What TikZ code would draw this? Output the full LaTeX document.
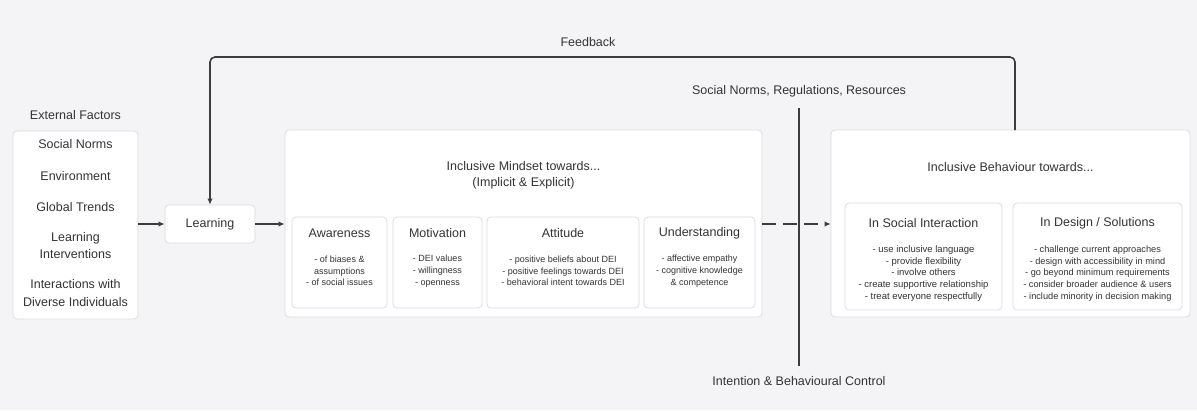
\documentclass[tikz,border=0pt]{standalone}
\usepackage{fontspec}
\setmainfont{Liberation Sans}
\usetikzlibrary{arrows.meta}
\definecolor{bgcol}{HTML}{F4F4F7}
\definecolor{boxline}{HTML}{DCDCE0}
\definecolor{txt}{HTML}{333333}
\definecolor{linecol}{HTML}{3C3C3C}
\tikzset{
  panel/.style={draw=boxline, fill=white, rounded corners=4pt, line width=0.8pt, inner sep=0pt},
  subbox/.style={draw=boxline, fill=white, rounded corners=4pt, line width=0.8pt, inner sep=0pt},
  lbl/.style={text=txt, font=\fontsize{12.5}{15}\selectfont, inner sep=0pt, align=center},
  small/.style={text=txt, font=\fontsize{9}{11.7}\selectfont, inner sep=0pt, align=center},
  smallb/.style={text=txt, font=\fontsize{9.5}{11.7}\selectfont, inner sep=0pt, align=center},
  conn/.style={draw=linecol, line width=1.6pt, -{Latex[length=6pt,width=5.5pt]}},
  dashconn/.style={conn, dash pattern=on 14pt off 7pt},
  plainline/.style={draw=linecol, line width=1.6pt}
}
\begin{document}
\begin{tikzpicture}[x=1pt,y=-1pt]
\fill[bgcol] (0,0) rectangle (1197,410);
\useasboundingbox (0,0) rectangle (1197,410);

% External factors
\node[lbl] (extT) at (75.5,115) {External Factors};
\node[panel, minimum width=125pt, minimum height=188pt] (ext) at (75.5,225) {};
\node[lbl] (e1) at (75.5,144) {Social Norms};
\node[lbl] (e2) at (75.5,176) {Environment};
\node[lbl] (e3) at (75.5,207) {Global Trends};
\node[lbl, font=\fontsize{12.5}{17}\selectfont] (e4) at (75.5,245.5) {Learning\\Interventions};
\node[lbl, font=\fontsize{12.5}{18}\selectfont] (e5) at (75.5,293) {Interactions with\\Diverse Individuals};

% Learning
\node[panel, minimum width=90pt, minimum height=38pt] (learn) at (210,224) {};
\node[lbl] (learnT) at (210,224) {Learning};

% Mindset
\node[panel, minimum width=477pt, minimum height=187pt] (mind) at (523.5,223.5) {};
\node[lbl, font=\fontsize{12.5}{16}\selectfont] (mindT) at (523.5,175) {Inclusive Mindset towards...\\(Implicit \& Explicit)};

\node[subbox, minimum width=95pt, minimum height=91pt] (aw) at (339.5,262.5) {};
\node[lbl] (awT) at (339.5,233) {Awareness};
\node[small] (awB) at (339.5,271) {- of biases \&\\assumptions\\- of social issues};

\node[subbox, minimum width=89pt, minimum height=91pt] (mo) at (437.5,262.5) {};
\node[lbl] (moT) at (437.5,233) {Motivation};
\node[small] (moB) at (437.5,271) {- DEI values\\- willingness\\- openness};

\node[subbox, minimum width=152pt, minimum height=91pt] (at) at (563,262.5) {};
\node[lbl] (atT) at (563,233) {Attitude};
\node[small] (atB) at (563,271) {- positive beliefs about DEI\\- positive feelings towards DEI\\- behavioral intent towards DEI};

\node[subbox, minimum width=111pt, minimum height=91pt] (un) at (699.5,262.5) {};
\node[lbl] (unT) at (699.5,233) {Understanding};
\node[small] (unB) at (699.5,271) {- affective empathy\\- cognitive knowledge\\\& competence};

% Behaviour
\node[panel, minimum width=359pt, minimum height=187pt] (beh) at (1010.5,223.5) {};
\node[lbl] (behT) at (1010.5,167) {Inclusive Behaviour towards...};

\node[subbox, minimum width=157pt, minimum height=107pt] (si) at (923.5,256.5) {};
\node[lbl] (siT) at (923.5,223) {In Social Interaction};
\node[smallb] (siB) at (923.5,273.5) {- use inclusive language\\- provide flexibility\\- involve others\\- create supportive relationship\\- treat everyone respectfully};

\node[subbox, minimum width=169pt, minimum height=107pt] (ds) at (1097.5,256.5) {};
\node[lbl] (dsT) at (1097.5,223) {In Design / Solutions};
\node[smallb, font=\fontsize{9.2}{11.7}\selectfont] (dsB) at (1097.5,273.5) {- challenge current approaches\\- design with accessibility in mind\\- go beyond minimum requirements\\- consider broader audience \& users\\- include minority in decision making};

% Vertical influence line
\coordinate (vTop) at (799,108);
\coordinate (vBot) at (799,366);
\node[lbl, anchor=south] (snr) at (799,97) {Social Norms, Regulations, Resources};
\node[lbl, anchor=north] (ibc) at (799,376) {Intention \& Behavioural Control};
\draw[plainline] (vTop) -- (vBot);

% Connectors
\draw[conn] (ext.east |- learn.west) -- (learn.west);
\draw[conn] (learn.east) -- (learn.east -| mind.west);
\draw[dashconn] (mind.east |- learn) -- (beh.west |- learn);

% Feedback loop
\coordinate (fbR) at (1015,130);
\coordinate (fbTopR) at (1015,57);
\coordinate (fbTopL) at (210,57);
\draw[conn, rounded corners=5pt] (fbR) -- (fbTopR) -- (fbTopL) -- (learn.north);
\node[lbl] (fbT) at (588,42) {Feedback};
\end{tikzpicture}
\end{document}
